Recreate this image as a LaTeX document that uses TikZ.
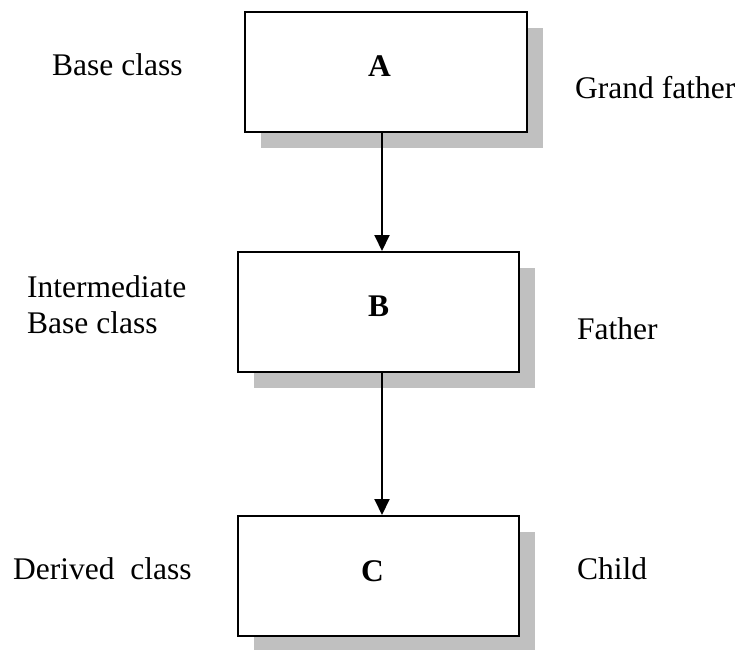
\documentclass[tikz,border=0pt]{standalone}
\usepackage{fontspec}
\setmainfont{Liberation Serif}
\usetikzlibrary{arrows.meta,shadows}
\definecolor{shadowgray}{RGB}{192,192,192}
\begin{document}
\begin{tikzpicture}[x=1pt,y=-1pt,
  classbox/.style={draw=black,line width=2pt,fill=white,rectangle,inner sep=0pt,
    drop shadow={shadow xshift=16pt,shadow yshift=-16pt,fill=shadowgray,opacity=1}},
  letter/.style={font=\fontsize{31.5}{36}\selectfont\bfseries,inner sep=0pt,anchor=base},
  role/.style={font=\fontsize{31.5}{36}\selectfont,inner sep=0pt,anchor=base west},
  inherit/.style={line width=2pt,-{Triangle[width=15pt,length=16pt]}}]
  \useasboundingbox (0,0) rectangle (744,650);

  % class boxes
  \node[classbox,minimum width=282pt,minimum height=120pt] (A) at (386,72) {};
  \node[classbox,minimum width=281pt,minimum height=120pt] (B) at (378.5,312) {};
  \node[classbox,minimum width=281pt,minimum height=120pt] (C) at (378.5,576) {};

  % class names
  \node[letter] (nA) at (379.5,77) {A};
  \node[letter] (nB) at (378.5,316) {B};
  \node[letter] (nC) at (372.5,581) {C};

  % inheritance arrows
  \coordinate (axis) at (382,0);
  \draw[inherit] (A.south -| axis) -- (B.north -| axis);
  \draw[inherit] (B.south -| axis) -- (C.north -| axis);

  % roles, left side (the two-line label hangs from its first baseline)
  \node[role] (lA) at (52,76) {Base class};
  \node[role] (lB) at (27,297) {\vtop{\hbox{Intermediate}\hbox{Base class}}};
  \node[role] (lC) at (13,579) {Derived\ \ class};

  % roles, right side
  \node[role] (rA) at (575,99) {Grand father};
  \node[role] (rB) at (577,339) {Father};
  \node[role] (rC) at (577,579) {Child};
\end{tikzpicture}
\end{document}
